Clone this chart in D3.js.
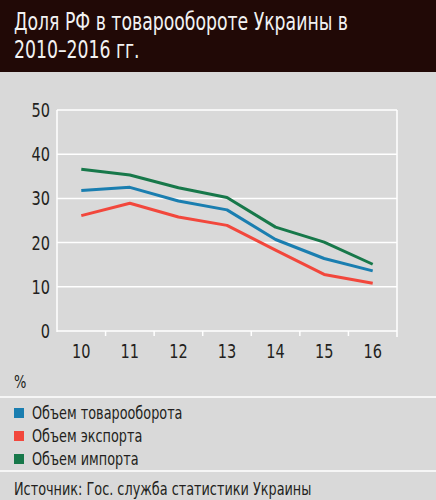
<!DOCTYPE html>
<html>
<head>
<meta charset="utf-8">
<script src="https://cdn.jsdelivr.net/npm/d3@7"></script>
<style>
  body { margin: 0; background: #d9d9d9; }
  svg text { font-family: "DejaVu Sans Condensed", "Liberation Sans Narrow", Roboto, sans-serif; }
</style>
</head>
<body>
<svg id="chart" width="436" height="500"></svg>
<script>
var years = ["10", "11", "12", "13", "14", "15", "16"];
var turnover = [31.8, 32.5, 29.4, 27.4, 20.7, 16.4, 13.6];
var exports = [26.1, 28.9, 25.8, 23.9, 18.3, 12.8, 10.8];
var imports = [36.6, 35.3, 32.4, 30.2, 23.5, 20.1, 15.1];
var yTicks = [0, 10, 20, 30, 40, 50];

var seriesNames = ["Объем товарооборота", "Объем экспорта", "Объем импорта"];
var seriesColors = ["#1a7eb0", "#f2473c", "#17784a"];
var series = [turnover, exports, imports];

var svg = d3.select("#chart");
var ink = "#231f20";

// narrow text: the original uses a condensed face, squeeze horizontally
function label(parent, tx, ty, str, size, anchor, fill, sx) {
    var g = parent.append("g").attr("transform", "translate(" + tx + "," + ty + ") scale(" + (sx || 0.84) + ",1)");
    return g.append("text").attr("x", 0).attr("y", 0)
        .attr("font-size", size).attr("text-anchor", anchor || "start")
        .attr("fill", fill || ink).text(str);
}

// header
svg.append("rect").attr("x", 0).attr("y", 0).attr("width", 436).attr("height", 500).attr("fill", "#d9d9d9");
svg.append("rect").attr("x", 0).attr("y", 0).attr("width", 436).attr("height", 72).attr("fill", "#210906");
label(svg, 14, 30, "Доля РФ в товарообороте Украины в", 24, "start", "#f2f2f2", 0.8);
label(svg, 14, 58, "2010–2016 гг.", 24, "start", "#f2f2f2", 0.8);

var x = d3.scaleBand().domain(years).range([57, 397]);
var y = d3.scaleLinear().domain([0, 50]).range([331, 110]);

// grid
svg.selectAll(".grid").data(yTicks).enter().append("line")
    .attr("x1", 57).attr("x2", 397)
    .attr("y1", d => y(d)).attr("y2", d => y(d))
    .attr("stroke", "#fff").attr("stroke-width", 1.5);
svg.append("line").attr("x1", 57).attr("x2", 57).attr("y1", y(50)).attr("y2", y(0) + 1)
    .attr("stroke", "#fff").attr("stroke-width", 1.5);
svg.append("line").attr("x1", 397).attr("x2", 397).attr("y1", y(50)).attr("y2", y(0) + 6)
    .attr("stroke", "#fff").attr("stroke-width", 1.5);

// tick marks between bands
svg.selectAll(".tick").data(years.slice(1)).enter().append("line")
    .attr("x1", d => x(d)).attr("x2", d => x(d))
    .attr("y1", y(0)).attr("y2", y(0) + 5)
    .attr("stroke", "#fff").attr("stroke-width", 1.5);

// y labels
yTicks.forEach(function (d) {
    label(svg, 50, y(d) + 7, d, 19, "end", ink, 0.85);
});

// x labels
years.forEach(function (d) {
    label(svg, x(d) + x.bandwidth() / 2, 358, d, 19, "middle", ink, 0.85);
});

label(svg, 14, 388, "%", 17, "start", ink, 0.85);

// lines
var line = d3.line()
    .x((d, i) => x(years[i]) + x.bandwidth() / 2)
    .y(d => y(d));

svg.selectAll(".series").data(series).enter().append("path")
    .attr("d", d => line(d))
    .attr("fill", "none")
    .attr("stroke", (d, i) => seriesColors[i])
    .attr("stroke-width", 3)
    .attr("stroke-linejoin", "round");

// legend
svg.append("line").attr("x1", 0).attr("x2", 436).attr("y1", 397).attr("y2", 397).attr("stroke", "#fff").attr("stroke-width", 1.5);
svg.append("line").attr("x1", 0).attr("x2", 436).attr("y1", 471).attr("y2", 471).attr("stroke", "#fff").attr("stroke-width", 1.5);

seriesNames.forEach(function (name, i) {
    var cy = 413 + i * 23;
    svg.append("rect").attr("x", 14).attr("y", cy - 5).attr("width", 10).attr("height", 10)
        .attr("fill", seriesColors[i]);
    label(svg, 32, cy + 6, name, 17, "start", ink, 0.84);
});

label(svg, 14, 495, "Источник: Гос. служба статистики Украины", 17, "start", ink, 0.84);
</script>
</body>
</html>
